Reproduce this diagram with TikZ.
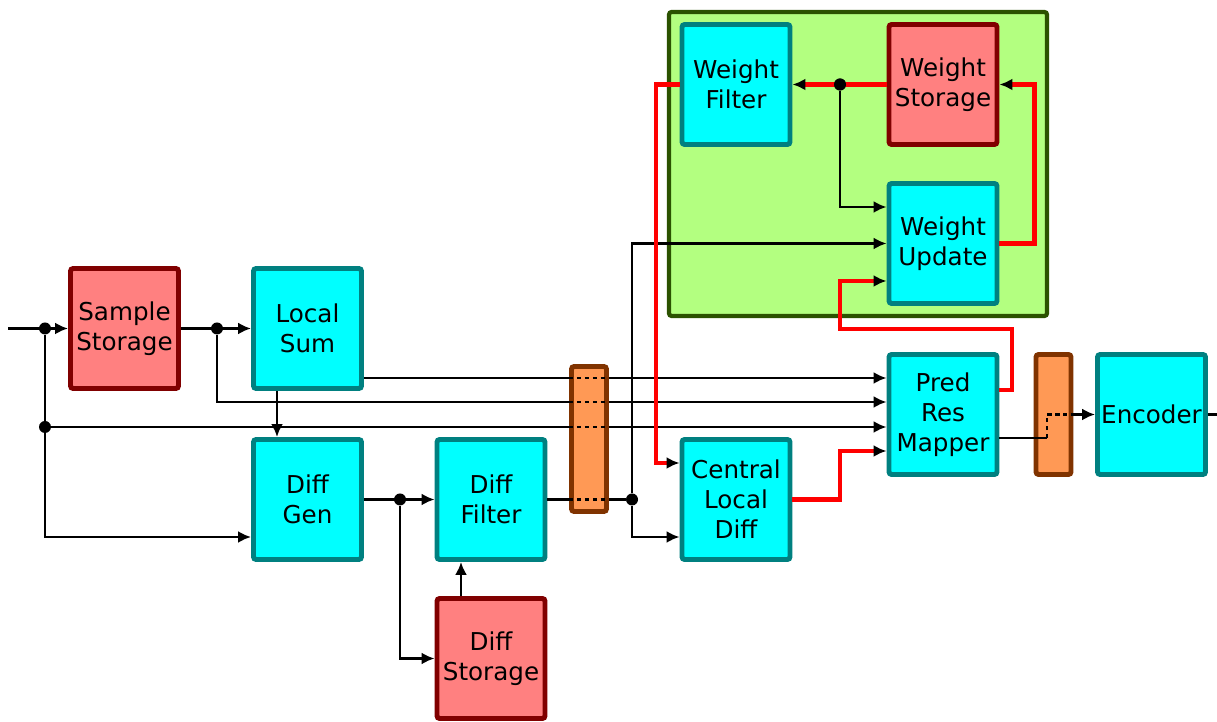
\documentclass[tikz,border=0pt]{standalone}
\usepackage{fontspec}
\setmainfont{DejaVu Sans}
\usepackage{xcolor}
\usepackage{tikz}
\usetikzlibrary{arrows.meta,calc}
\definecolor{procfill}{HTML}{00FFFF}
\definecolor{procedge}{HTML}{008080}
\definecolor{memfill}{HTML}{FF8080}
\definecolor{memedge}{HTML}{800000}
\definecolor{regfill}{HTML}{FF9955}
\definecolor{regedge}{HTML}{803300}
\definecolor{grpfill}{HTML}{B3FF80}
\definecolor{grpedge}{HTML}{2B5200}

\begin{document}
\begin{tikzpicture}[font=\fontsize{14}{17}\selectfont,
    proc/.style={draw=procedge,fill=procfill,line width=2.8pt,rounded corners=1.5pt,
      minimum width=2.16cm,minimum height=2.40cm,align=center,inner sep=0pt},
    mem/.style={proc,draw=memedge,fill=memfill},
    reg/.style={draw=regedge,fill=regfill,line width=2.8pt,rounded corners=1.5pt,
      minimum width=0.70cm,inner sep=0pt},
    grp/.style={draw=grpedge,fill=grpfill,line width=2.4pt,rounded corners=1.5pt,inner sep=0pt},
    wire/.style={draw=black,line width=1.4pt},
    sig/.style={wire,-{Latex[length=2.6mm,width=2.4mm]}},
    fb/.style={draw=red,line width=2.6pt,-{Latex[black,length=2.6mm,width=2.4mm]}},
    dot/.style={circle,fill=black,inner sep=0pt,minimum size=2.4mm}]
    \useasboundingbox (0,0) rectangle (24.34,14.44);

    % weight update group
    \node[grp,minimum width=7.56cm,minimum height=6.08cm] (wgrp) at (17.16,11.16) {};
    \node[proc] (wfilt) at (14.72,12.75) {Weight\\Filter};
    \node[mem] (wstor) at (18.86,12.75) {Weight\\Storage};
    \node[proc] (wupd) at (18.86,9.57) {Weight\\Update};

    % main path
    \node[mem] (samp) at (2.49,7.87) {Sample\\Storage};
    \node[proc] (lsum) at (6.15,7.87) {Local\\Sum};
    \node[proc] (dgen) at (6.15,4.45) {Diff\\Gen};
    \node[proc] (dfilt) at (9.82,4.45) {Diff\\Filter};
    \node[mem] (dstor) at (9.82,1.27) {Diff\\Storage};
    \node[proc] (cld) at (14.72,4.45) {Central\\Local\\Diff};
    \node[proc] (prm) at (18.86,6.15) {Pred\\Res\\Mapper};
    \node[reg,minimum height=2.40cm] (reg2) at (21.07,6.15) {};
    \node[proc] (enc) at (23.03,6.15) {Encoder};

    \coordinate (in) at (0.16,7.87);
    \coordinate (out) at (24.34,6.15);
    \coordinate (kink) at (20.94,5.68);
    \node[dot] (t1) at (0.90,7.87) {};
    \node[dot] (t2) at (0.90,5.90) {};
    \node[dot] (t3) at (4.34,7.87) {};
    \node[dot] (t4) at (8.00,4.45) {};
    \node[dot] (t5) at (12.64,4.45) {};
    \node[dot] (t6) at (16.80,12.75) {};

    % black signals
    \draw[sig] (in) -- (samp.west);
    \draw[wire] (t1) -- (t2);
    \draw[sig] (t2) |- (dgen.west |- 0,3.70);
    \draw[sig] (t2) -- (prm.west |- t2);
    \draw[sig] (samp) -- (lsum);
    \draw[sig] (t3) |- (prm.west |- 0,6.40);
    \draw[sig] (lsum.east |- 0,6.88) -- (prm.west |- 0,6.88);
    \draw[sig] (lsum.south -| 5.54,0) -- (dgen.north -| 5.54,0);
    \draw[sig] (dgen) -- (dfilt);
    \draw[sig] (t4) |- (dstor.west);
    \draw[sig] (dstor.north -| 9.22,0) -- (dfilt.south -| 9.22,0);
    \draw[wire] (dfilt.east) -- (t5);
    \draw[sig] (t5) |- (wupd.west);
    \draw[sig] (t5) |- (cld.west |- 0,3.70);
    \draw[sig] (t6) |- (wupd.west |- 0,10.30);
    \draw[wire] (prm.east |- kink) -- (kink);
    \draw[wire,dash pattern=on 2.5pt off 2pt] (kink) |- (reg2.east |- enc);
    \draw[sig] (reg2.east |- enc) -- (enc.west);
    \draw[wire] (enc.east) -- (out);

    % red feedback
    \draw[fb] (wstor.west) -- (wfilt.east);
    \draw[fb] (wupd.east) -- ++(0.7,0) |- (wstor.east);
    \draw[fb] (wfilt.west) -| (13.12,5.18) -- (cld.west |- 0,5.18);
    \draw[fb] (cld.east) -| (16.80,5.42) -- (prm.west |- 0,5.42);
    \draw[fb] (prm.east |- 0,6.64) -| (20.24,7.86) -| (16.80,8.82) -- (wupd.west |- 0,8.82);
    \node[dot] at (t6) {};

    % register over the buses
    \node[reg,minimum height=2.90cm] (reg1) at (11.78,5.66) {};
    \foreach \y in {6.88,6.40,5.90,4.45}
      \draw[wire,dash pattern=on 2.5pt off 2pt] (reg1.west |- 0,\y) -- (reg1.east |- 0,\y);
  \end{tikzpicture}
\end{document}
